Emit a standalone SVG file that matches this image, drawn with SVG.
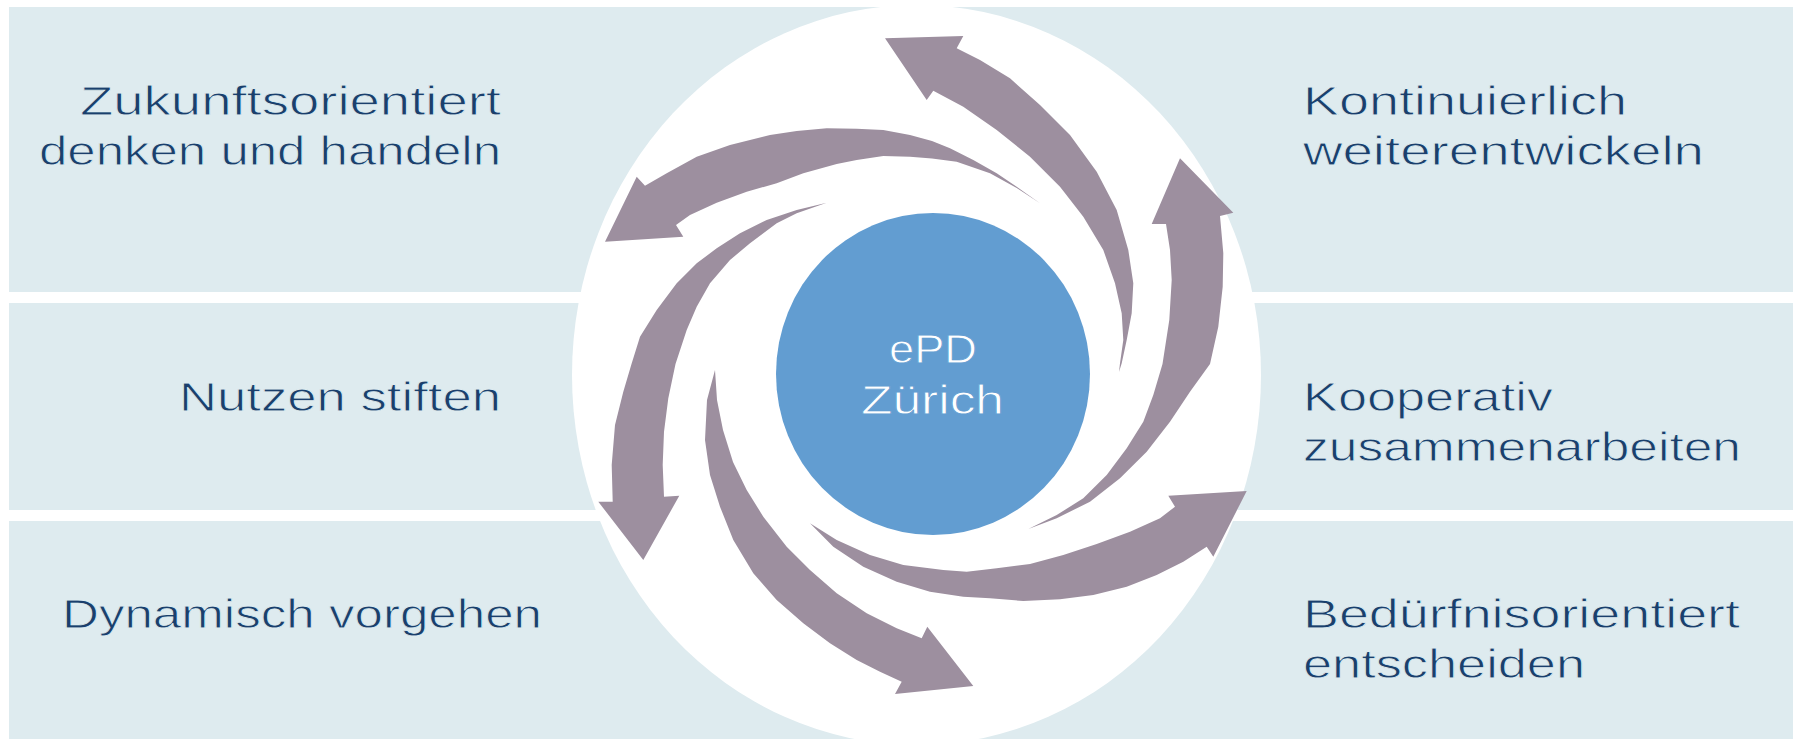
<svg xmlns="http://www.w3.org/2000/svg" width="1793" height="739" viewBox="0 0 1793 739">
<style>
.panel{fill:#DEEBEF}
.arrow{fill:#9D8F9F}
.lbl{font-family:"Liberation Sans",Arial,sans-serif;font-size:40px;fill:#1B3F6C;stroke:#DEEBEF;stroke-width:0.8px}
.center{font-family:"Liberation Sans",Arial,sans-serif;font-size:40px;fill:#FFFFFF;text-anchor:middle;stroke:#629DD1;stroke-width:0.8px}
</style>
<rect width="1793" height="739" fill="#FFFFFF"/>
<g id="panels">
<rect class="panel" x="9" y="7" width="1784" height="285"/>
<rect class="panel" x="9" y="303" width="1784" height="207"/>
<rect class="panel" x="9" y="521" width="1784" height="218"/>
</g>
<ellipse id="backdrop" cx="916.5" cy="375" rx="344.5" ry="370" fill="#FFFFFF"/>
<g id="connectors">
<polygon id="arrow-top" class="arrow" points="885,38.3 963.3,36 956.7,48.3 980,60 1010,78.3 1040,105 1070,135 1096.7,171.7 1116.7,210 1128.3,250 1133.3,283.3 1131.7,313.3 1126.7,340 1121.7,363.3 1119,372 1120,363.3 1123.3,340 1121.7,313.3 1115,283.3 1103.3,250 1083.3,216.7 1060,186.7 1030,156.7 996.7,130 963.3,106.7 933.3,90.7 926.7,100"/>
<polygon id="arrow-upper-left" class="arrow" points="605,241.7 636.7,176.7 645,185.7 666.7,173.3 696.7,156.7 730,145 770,135 796.7,131 826.7,128.3 856.7,128.7 883.3,130 910,135 932,141 950,148.3 973.3,160 996.7,173.3 1016.7,186.7 1040,203.3 1016.7,188 990,173.3 956.7,161.7 932,158.5 910,156.7 883.3,156 856.7,160 836.7,164 803.3,173.3 776.7,183.3 746.7,191.7 716.7,202.7 690,215 676,225 683.3,236.7"/>
<polygon id="arrow-left" class="arrow" points="826.7,202.7 796.7,210 766.7,220 740,233.3 716.7,248.3 696.7,263.3 676.7,283.3 656.7,310 640,336.7 631.5,364 623.3,391.7 615,425 611.7,465 612.7,501.7 598.3,501.7 643.3,560 679.3,495.7 664,496.7 662.7,465 664,431.7 668.3,398.3 675.5,364 686.7,330 696.7,306.7 710,283.3 730,260 750,243.3 776.7,223.3 796.7,213.3"/>
<polygon id="arrow-bottom-left" class="arrow" points="715,370 707,400 705,440 710,475 720,506.7 733.3,540 753.3,573.3 776.7,600 803.3,623.3 830,643.3 856.7,660 880,671.7 901.7,681.7 895,694 973.3,686 927.3,626.7 921.7,638.3 896.7,628.3 866.7,613.3 836.7,593.3 810,570 786.7,546.7 763.3,516.7 746.7,490 733,462 723,430 717,400"/>
<polygon id="arrow-bottom-right" class="arrow" points="810,523.3 836.7,540 870,555 903.3,565 943.3,570 966.7,571.7 996.7,568.3 1030,564 1063.3,555 1096.7,544 1130,531.7 1160,518.3 1175,506.7 1168.3,495.7 1246.7,491 1213.3,556.7 1206.7,546.7 1183.3,561.7 1156.7,575 1126.7,586.7 1093.3,595 1060,599.3 1023.3,601 990,598.3 963.3,596.7 930,591.7 896.7,581.7 863.3,566.7 833.3,546.7"/>
<polygon id="arrow-right" class="arrow" points="1028.3,529 1056.7,518.3 1090,501.7 1120,478.3 1146.7,451.7 1170,421.7 1190,391.7 1210,364 1218.3,326.7 1222.7,286.7 1223.3,253.3 1220,216 1233.3,212.7 1180,158.3 1151.7,224 1166,224 1170,250 1171.7,280 1169.3,320 1162.5,364 1153.3,395 1143.3,421.7 1126.7,448.3 1106.7,475 1083.3,498.3 1056.7,515"/>
</g>
<g id="node-center">
<ellipse cx="933" cy="374" rx="157" ry="161" fill="#629DD1"/>
<text class="center" x="933" y="363" textLength="88" lengthAdjust="spacingAndGlyphs">ePD</text>
<text class="center" x="932.5" y="414" textLength="143" lengthAdjust="spacingAndGlyphs">Zürich</text>
</g>
<g id="node-zukunft">
<text class="lbl" x="80" y="115" textLength="421" lengthAdjust="spacingAndGlyphs">Zukunftsorientiert</text>
<text class="lbl" x="39" y="165" textLength="462" lengthAdjust="spacingAndGlyphs">denken und handeln</text>
</g>
<g id="node-nutzen">
<text class="lbl" x="179" y="411" textLength="322" lengthAdjust="spacingAndGlyphs">Nutzen stiften</text>
</g>
<g id="node-dynamisch">
<text class="lbl" x="62" y="628" textLength="480" lengthAdjust="spacingAndGlyphs">Dynamisch vorgehen</text>
</g>
<g id="node-kontinuierlich">
<text class="lbl" x="1303" y="115" textLength="324" lengthAdjust="spacingAndGlyphs">Kontinuierlich</text>
<text class="lbl" x="1303" y="165" textLength="401" lengthAdjust="spacingAndGlyphs">weiterentwickeln</text>
</g>
<g id="node-kooperativ">
<text class="lbl" x="1303" y="411" textLength="250" lengthAdjust="spacingAndGlyphs">Kooperativ</text>
<text class="lbl" x="1303" y="461" textLength="438" lengthAdjust="spacingAndGlyphs">zusammenarbeiten</text>
</g>
<g id="node-beduerfnis">
<text class="lbl" x="1303" y="628" textLength="437" lengthAdjust="spacingAndGlyphs">Bedürfnisorientiert</text>
<text class="lbl" x="1303" y="678" textLength="282" lengthAdjust="spacingAndGlyphs">entscheiden</text>
</g>
</svg>
